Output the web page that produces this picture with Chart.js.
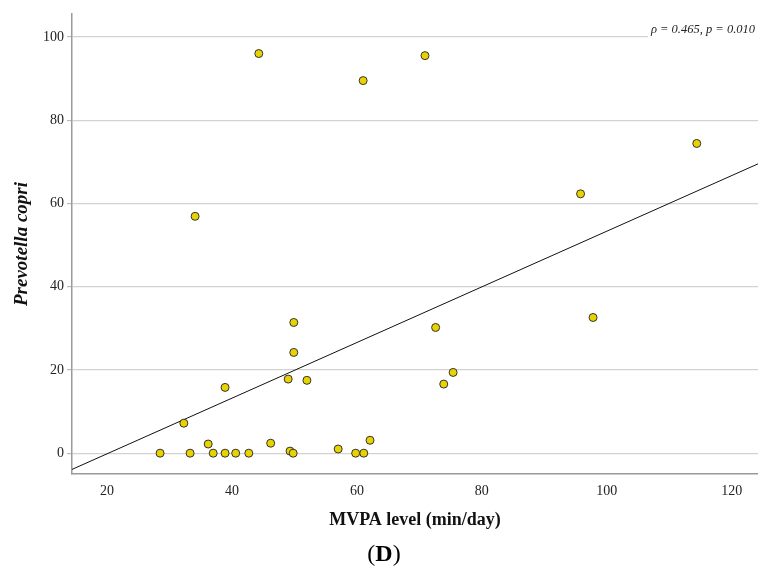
<!DOCTYPE html>
<html>
<head>
<meta charset="utf-8">
<script src="https://cdn.jsdelivr.net/npm/chart.js@4.4.1/dist/chart.umd.min.js"></script>
<style>
  html, body { margin: 0; padding: 0; background: #fff; overflow: hidden; }
  #wrap { position: relative; width: 758px; height: 545px; }
  #label { position: absolute; left: 0; top: 539px; width: 768px; text-align: center; line-height: 28px;
           font-family: "Liberation Serif", "DejaVu Serif", serif; font-size: 24px; color: #000; }
</style>
</head>
<body>
<div id="wrap"><canvas id="chart"></canvas></div>
<div id="label">(<b>D</b>)</div>
<script>
// MVPA level (min/day) vs Prevotella copri abundance
const mvpa = [28.5, 32.3, 33.3, 34.1, 36.2, 37.0, 38.9, 38.9, 40.6, 42.7,
              44.3, 46.2, 49.0, 49.3, 49.8, 49.9, 49.9, 52.0, 57.0, 59.8,
              61.1, 61.0, 62.1, 70.9, 72.6, 73.9, 75.4, 95.8, 97.8, 114.4];
const prevotella = [0, 7.2, 0, 56.9, 2.2, 0, 15.8, 0, 0, 0,
                    96.0, 2.4, 17.8, 0.5, 0, 31.4, 24.2, 17.5, 1.0, 0,
                    0, 89.5, 3.1, 95.5, 30.2, 16.6, 19.4, 62.3, 32.6, 74.4];

// fitted line endpoints (edges of the plot)
const fitX = [14.4, 124.2];
const fitY = [-3.9, 69.5];

const xTicks = [20, 40, 60, 80, 100, 120];
const yTicks = [0, 20, 40, 60, 80, 100];

const SERIF = '"Liberation Serif", "DejaVu Serif", serif';

const points = mvpa.map((x, i) => ({x: x, y: prevotella[i]}));
const fitLine = fitX.map((x, i) => ({x: x, y: fitY[i]}));

// statistic text sits on the top gridline with a white box behind it
const annotation = {
    id: "annotation",
    afterDatasetsDraw(chart) {
        const ctx = chart.ctx;
        const text = "\u03C1 = 0.465, p = 0.010";
        ctx.save();
        ctx.font = "italic 12.5px " + SERIF;
        const w = ctx.measureText(text).width;
        const right = 755;
        const y = chart.scales.y.getPixelForValue(100);
        ctx.fillStyle = "#fff";
        ctx.fillRect(right - w - 3, y - 14, w + 6, 15);
        ctx.fillStyle = "#222";
        ctx.textAlign = "right";
        ctx.textBaseline = "alphabetic";
        ctx.fillText(text, right, y - 4);
        ctx.restore();
    }
};

new Chart(document.getElementById("chart"), {
    type: "scatter",
    data: {
        datasets: [
            {
                data: points,
                backgroundColor: "#e8d300",
                borderColor: "#333",
                borderWidth: 1,
                pointRadius: 4,
                order: 1
            }, {
                type: "line",
                data: fitLine,
                borderColor: "#111",
                borderWidth: 1,
                pointRadius: 0,
                fill: false,
                order: 2
            }
        ]
    },
    options: {
        responsive: true,
        maintainAspectRatio: false,
        animation: false,
        layout: {autoPadding: false, padding: {top: 14, right: 0, left: 0, bottom: 10}},
        plugins: {
            legend: {display: false},
            tooltip: {enabled: false}
        },
        scales: {
            x: {
                type: "linear",
                min: fitX[0],
                max: fitX[1],
                afterBuildTicks: s => { s.ticks = xTicks.map(v => ({value: v})); },
                afterFit: s => { s.height = 61; },
                grid: {display: false, drawTicks: false},
                border: {color: "#9a9a9a", width: 1.5},
                ticks: {
                    padding: 9,
                    color: "#222",
                    font: {family: SERIF, size: 14}
                },
                title: {
                    display: true,
                    text: "MVPA level (min/day)",
                    color: "#111",
                    font: {family: SERIF, size: 18, weight: "bold"}
                }
            },
            y: {
                min: -5,
                max: 105.5,
                afterBuildTicks: s => { s.ticks = yTicks.map(v => ({value: v})); },
                afterFit: s => { s.width = 72; },
                grid: {color: "#d2d2d2", lineWidth: 1.2, tickLength: 5, tickColor: "#bbb"},
                border: {color: "#9a9a9a", width: 1.5},
                ticks: {
                    padding: 3,
                    color: "#222",
                    font: {family: SERIF, size: 14}
                },
                title: {
                    display: true,
                    text: "Prevotella copri",
                    color: "#111",
                    font: {family: SERIF, size: 19, weight: "bold", style: "italic"},
                    padding: {top: 11, bottom: 0}
                }
            }
        }
    },
    plugins: [annotation]
});
</script>
</body>
</html>
